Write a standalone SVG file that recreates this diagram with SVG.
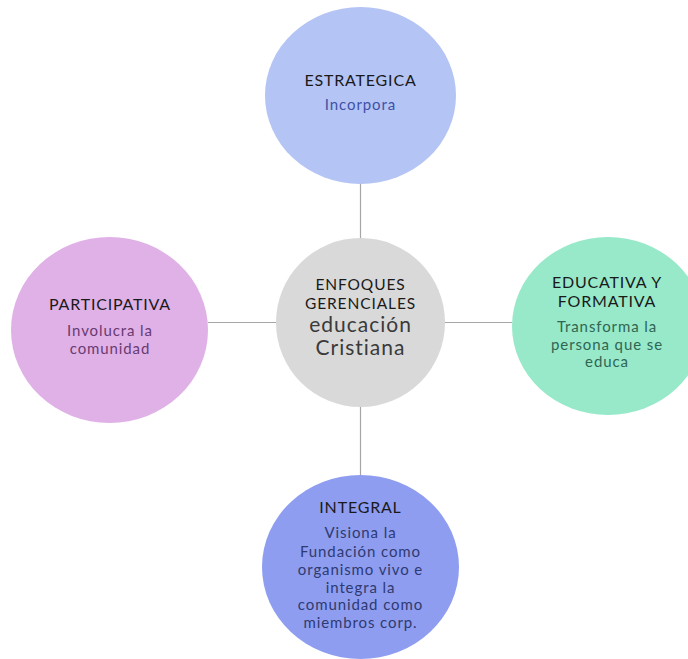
<svg xmlns="http://www.w3.org/2000/svg" width="688" height="659" viewBox="0 0 688 659">
<style>
text{font-family:Lato,"Noto Sans","Liberation Sans",sans-serif;text-anchor:middle}
.t{font-size:16px;letter-spacing:0.8px;fill:#1a1a1a}
.t2{font-size:15.5px;letter-spacing:0.9px;fill:#1a1a1a}
.s{font-size:15px;letter-spacing:0.9px}
.c{font-size:21px;letter-spacing:1px;fill:#3a3a3a}
.ln{stroke:#a6a6a6;stroke-width:1.2;fill:none}
</style>
<rect width="688" height="659" fill="#ffffff"/>
<g id="connectors">
<line class="ln" x1="360.5" y1="184" x2="360.5" y2="238"/>
<line class="ln" x1="360.5" y1="407" x2="360.5" y2="476"/>
<line class="ln" x1="208" y1="322.5" x2="276" y2="322.5"/>
<line class="ln" x1="445" y1="322.5" x2="512" y2="322.5"/>
</g>
<g id="center">
<ellipse cx="360.5" cy="322.5" rx="84.5" ry="84.5" fill="#d9d9d9"/>
<text class="t2" x="360.5" y="290">ENFOQUES</text>
<text class="t2" x="360.5" y="309">GERENCIALES</text>
<text class="c" x="360.5" y="332">educación</text>
<text class="c" x="360.5" y="355">Cristiana</text>
</g>
<g id="estrategica">
<ellipse cx="360.5" cy="95.5" rx="95.5" ry="88.5" fill="#b4c4f4"/>
<text class="t" x="360.5" y="86">ESTRATEGICA</text>
<text class="s" x="360.5" y="110" fill="#3f51a8">Incorpora</text>
</g>
<g id="educativa">
<ellipse cx="608" cy="326" rx="96" ry="89" fill="#97e9c9"/>
<text class="t" x="607" y="288">EDUCATIVA Y</text>
<text class="t" x="607" y="307">FORMATIVA</text>
<text class="s" x="607" y="332" fill="#2f6653">Transforma la</text>
<text class="s" x="607" y="350" fill="#2f6653">persona que se</text>
<text class="s" x="607" y="367" fill="#2f6653">educa</text>
</g>
<g id="participativa">
<ellipse cx="109.5" cy="330" rx="98.5" ry="93" fill="#dfb1e6"/>
<text class="t" x="110" y="310">PARTICIPATIVA</text>
<text class="s" x="110" y="336" fill="#6a3a72">Involucra la</text>
<text class="s" x="110" y="354" fill="#6a3a72">comunidad</text>
</g>
<g id="integral">
<ellipse cx="360.5" cy="567" rx="98.5" ry="92" fill="#8e9df0"/>
<text class="t" x="360.5" y="513">INTEGRAL</text>
<text class="s" x="360.5" y="538" fill="#2f3a70">Visiona la</text>
<text class="s" x="360.5" y="557" fill="#2f3a70">Fundación como</text>
<text class="s" x="360.5" y="575" fill="#2f3a70">organismo vivo e</text>
<text class="s" x="360.5" y="593" fill="#2f3a70">integra la</text>
<text class="s" x="360.5" y="610" fill="#2f3a70">comunidad como</text>
<text class="s" x="360.5" y="628" fill="#2f3a70">miembros corp.</text>
</g>
</svg>
